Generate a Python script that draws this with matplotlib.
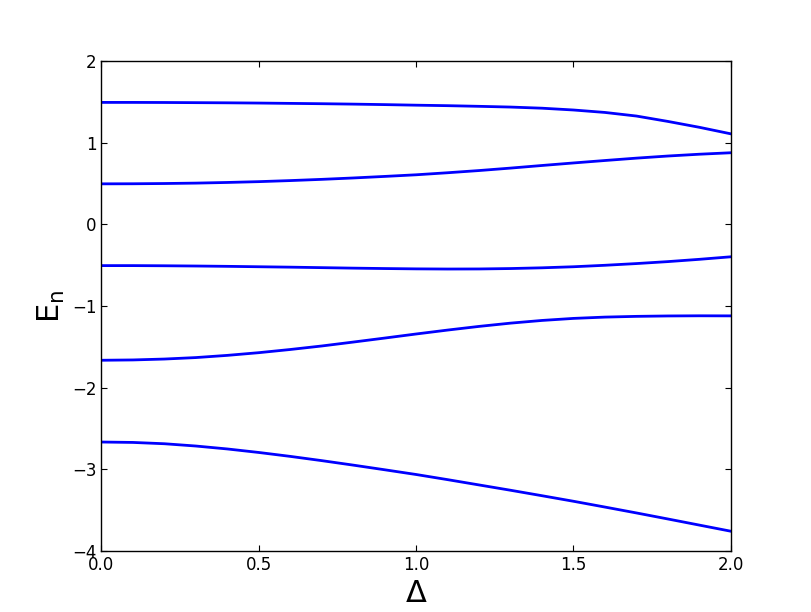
import matplotlib
matplotlib.use("Agg")
import matplotlib.pyplot as plt

delta = [0.0, 0.1, 0.2, 0.3, 0.4, 0.5, 0.6, 0.7, 0.8, 0.9, 1.0,
         1.1, 1.2, 1.3, 1.4, 1.5, 1.6, 1.7, 1.8, 1.9, 2.0]

E1 = [1.495, 1.495, 1.494, 1.492, 1.490, 1.487, 1.483, 1.479, 1.474, 1.468, 1.461,
      1.455, 1.447, 1.438, 1.424, 1.402, 1.372, 1.328, 1.262, 1.190, 1.110]
E2 = [0.497, 0.498, 0.501, 0.506, 0.514, 0.524, 0.537, 0.552, 0.569, 0.588, 0.608,
      0.633, 0.660, 0.690, 0.722, 0.753, 0.783, 0.812, 0.838, 0.860, 0.878]
E3 = [-0.505, -0.505, -0.507, -0.510, -0.514, -0.519, -0.524, -0.530, -0.536, -0.541, -0.545,
      -0.547, -0.546, -0.541, -0.532, -0.519, -0.501, -0.480, -0.456, -0.428, -0.397]
E4 = [-1.665, -1.661, -1.650, -1.632, -1.605, -1.572, -1.533, -1.490, -1.442, -1.393, -1.343,
      -1.295, -1.250, -1.210, -1.177, -1.152, -1.136, -1.127, -1.122, -1.120, -1.121]
E5 = [-2.667, -2.672, -2.688, -2.716, -2.752, -2.795, -2.843, -2.895, -2.950, -3.007, -3.065,
      -3.128, -3.193, -3.258, -3.325, -3.393, -3.464, -3.536, -3.610, -3.685, -3.760]

fig = plt.figure(figsize=(8.12, 6.12), dpi=100)
ax = fig.add_subplot(111)
fig.subplots_adjust(left=0.125, right=0.9, bottom=0.1, top=0.9)

for E in (E1, E2, E3, E4, E5):
    ax.plot(delta, E, color='b', lw=2)

ax.set_xlim(0, 2)
ax.set_ylim(-4, 2)
ax.set_xticks([0.0, 0.5, 1.0, 1.5, 2.0])
ax.set_yticks([-4, -3, -2, -1, 0, 1, 2])
ax.tick_params(direction='in', top=True, right=True, labelsize=12, length=4, width=0.8)
ax.set_xlabel(r'$\Delta$', fontsize=22)
ax.set_ylabel(r'$\mathrm{E_n}$', fontsize=22)
for s in ax.spines.values():
    s.set_linewidth(1.0)

fig.savefig('out.png', dpi=100)
